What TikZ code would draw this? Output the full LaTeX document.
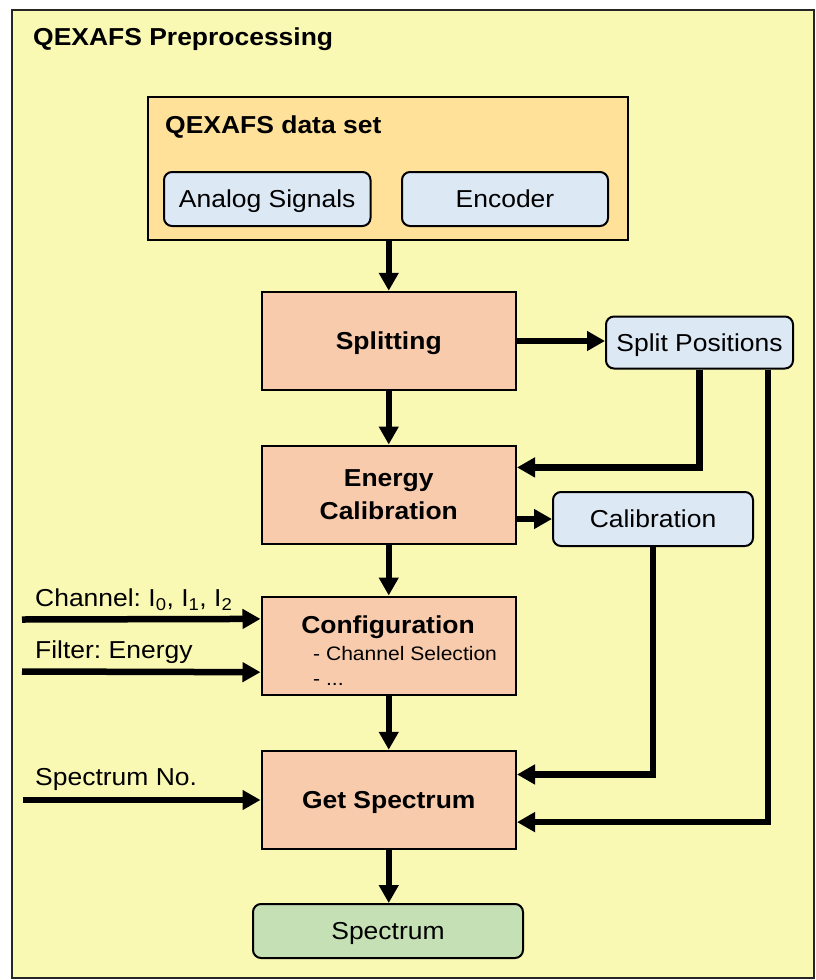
\documentclass[tikz,border=0pt]{standalone}
\usepackage{fontspec}
\setmainfont{Liberation Sans}[FakeStretch=1.08]
\usetikzlibrary{arrows.meta,calc}
\frenchspacing

\definecolor{panelbg}{HTML}{FAF9B4}
\definecolor{setbg}{HTML}{FFE199}
\definecolor{databg}{HTML}{DDE8F5}
\definecolor{procbg}{HTML}{F8CBAD}
\definecolor{resultbg}{HTML}{C5E0B4}

\newcommand\mainfnt{\fontsize{24.5}{33}\selectfont}
\newcommand\notefnt{\fontsize{19.5}{25}\selectfont}

\tikzset{
  procbox/.style={draw=black, line width=2pt, fill=procbg, inner sep=0pt,
    minimum width=254.5pt, minimum height=98.5pt, font=\mainfnt\bfseries, align=center},
  databox/.style={draw=black, line width=2pt, fill=databg, rounded corners=8pt,
    inner sep=0pt, minimum height=54pt, font=\mainfnt, text depth=0pt},
  flow/.style={line width=6.5pt, -{Triangle[length=18pt,width=19pt]}},
  label/.style={anchor=base west, inner sep=0pt, font=\mainfnt},
}

\begin{document}
\begin{tikzpicture}[x=1pt, y=-1pt]
\useasboundingbox (0,0) rectangle (816,980);

% outer panel
\draw[line width=2pt, draw=black!85, fill=panelbg] (12,10) rectangle (814,978);
\node[label, font=\mainfnt\bfseries] (title) at (33,45) {QEXAFS Preprocessing};

% data set container
\node[draw=black, line width=2pt, fill=setbg, inner sep=0pt,
      minimum width=480pt, minimum height=143pt] (ds) at (388,168.5) {};
\node[label, font=\mainfnt\bfseries] (dstitle) at (165,133) {QEXAFS data set};
\node[databox, minimum width=206.5pt] (analog) at (267.25,199) {Analog Signals};
\node[databox, minimum width=206pt] (enc) at (505,199) {Encoder};

% processing steps
\node[procbox, text depth=0pt] (split) at (388.75,341) {Splitting};
\node[procbox] (ec) at (388.75,494.75) {Energy\\Calibration};
\node[procbox] (cfg) at (388.75,645.75) {};
\node[procbox, text depth=0pt] (gs) at (388.75,800) {Get Spectrum};

\node[anchor=base, inner sep=0pt, font=\mainfnt\bfseries] (cfgtitle) at (388,633) {Configuration};
\node[anchor=base west, inner sep=0pt, font=\notefnt] (cfgsel) at (313,660) {- Channel Selection};
\node[anchor=base west, inner sep=0pt, font=\notefnt] (cfgmore) at (313,685) {- ...};

% intermediate results
\node[databox, minimum width=187pt, minimum height=52pt] (sp) at (699.5,342.5) {Split Positions};
\node[databox, minimum width=200pt] (cal) at (653,519) {Calibration};

% output
\node[databox, fill=resultbg, minimum width=270pt] (spec) at (388,931) {Spectrum};

% main flow
\draw[flow] (split.north |- ds.south) -- (split.north);
\draw[flow] (split.south) -- (ec.north);
\draw[flow] (ec.south) -- (cfg.north);
\draw[flow] (cfg.south) -- (gs.north);
\draw[flow] (gs.south) -- (spec.north -| gs.south);

% side products
\draw[flow] (split.east) -- (sp.west |- split.east);
\draw[flow] (ec.east |- cal.west) -- (cal.west);

% feedback of split positions and calibration
\draw[flow] (sp.south) |- ($(ec.north east)!0.228!(ec.south east)$);
\draw[flow] ([xshift=68.5pt]sp.south) |- ($(gs.north east)!0.72!(gs.south east)$);
\draw[flow] (cal.south) |- ($(gs.north east)!0.246!(gs.south east)$);

% external inputs
\coordinate (chin) at (22,619.5);
\coordinate (fin) at (22,671.5);
\coordinate (nin) at (23,800);
\node[label] (chlabel) at (35,606.5) {Channel: I\textsubscript{0}, I\textsubscript{1}, I\textsubscript{2}};
\node[label] (flabel) at (35,658.5) {Filter: Energy};
\node[label] (nlabel) at (35,785) {Spectrum No.};
\draw[flow] (chin) -- ($(cfg.north west)!0.233!(cfg.south west)$);
\draw[flow] (fin) -- ($(cfg.north west)!0.763!(cfg.south west)$);
\draw[flow] (nin) -- (gs.west);
\end{tikzpicture}
\end{document}
